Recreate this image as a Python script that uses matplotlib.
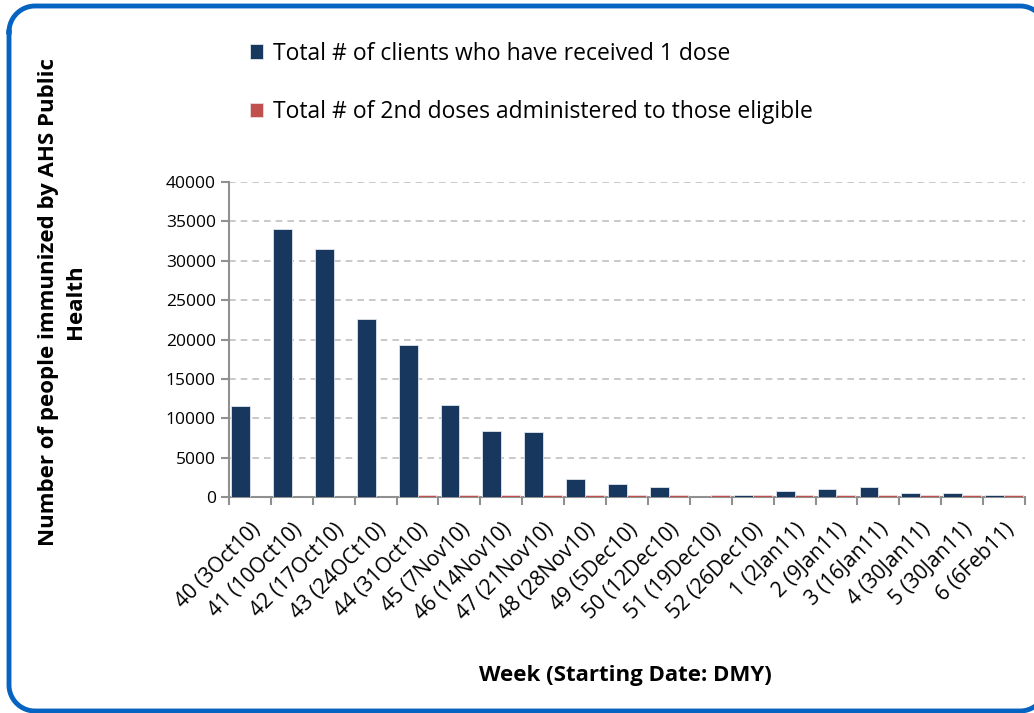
import matplotlib
matplotlib.use('Agg')
import matplotlib.pyplot as plt
from matplotlib.lines import Line2D
import numpy as np

weeks = ['40 (3Oct10)', '41 (10Oct10)', '42 (17Oct10)', '43 (24OCt10)', '44 (31Oct10)',
         '45 (7Nov10)', '46 (14Nov10)', '47 (21Nov10)', '48 (28Nov10)', '49 (5Dec10)',
         '50 (12Dec10)', '51 (19Dec10)', '52 (26Dec10)', '1 (2Jan11)', '2 (9Jan11)',
         '3 (16Jan11)', '4 (30Jan11)', '5 (30Jan11)', '6 (6Feb11)']
first_dose = [11500, 34000, 31500, 22600, 19300, 11700, 8400, 8200, 2300, 1600,
              1300, 0, 200, 750, 1000, 1250, 480, 480, 200]
second_dose = [0, 0, 0, 0, 300, 300, 300, 300, 300, 300,
               300, 300, 300, 300, 300, 300, 300, 300, 300]

label_first = 'Total # of clients who have received 1 dose'
label_second = 'Total # of 2nd doses administered to those eligible'

plt.rcParams['font.family'] = ['Open Sans', 'DejaVu Sans']

W, H = 1034, 713
fig = plt.figure(figsize=(W / 100, H / 100), dpi=100)
ax = fig.add_axes([229 / W, 1 - 497 / H, 796 / W, 315 / H])

x = np.arange(len(weeks))
bw = 0.45
ax.bar(x - bw / 2, first_dose, width=bw, color='#17375E', edgecolor='#dfe6ee', linewidth=0.6,
       label=label_first, zorder=3)
ax.bar(x + bw / 2, second_dose, width=bw, color='#C0504D', edgecolor='#f0dada', linewidth=0.6,
       label=label_second, zorder=3)

ax.set_xlim(-0.5, len(weeks) - 0.5)
ax.set_ylim(0, 40000)
ax.set_yticks(np.arange(0, 40001, 5000))
ax.yaxis.grid(True, linestyle=(0, (4, 3)), color='#c0c0c0', linewidth=1.2, zorder=0)
ax.set_xticks(np.arange(-0.5, len(weeks), 1.0))
ax.set_xticklabels([])
ax.set_xticks(x, minor=True)
ax.set_xticklabels(weeks, minor=True, rotation=45, ha='right', rotation_mode='anchor',
                   fontsize=15)
ax.tick_params(axis='x', which='minor', length=0, pad=16)
ax.tick_params(axis='x', which='major', length=6, color='#909090', width=1.5)
ax.tick_params(axis='y', length=6, color='#909090', width=1.5, labelsize=12.5)

for s in ['top', 'right']:
    ax.spines[s].set_visible(False)
for s in ['left', 'bottom']:
    ax.spines[s].set_color('#909090')
    ax.spines[s].set_linewidth(1.5)

fig.text(62 / W, 1 - 302 / H, 'Number of people immunized by AHS Public\nHealth',
         rotation=90, ha='center', va='center', fontsize=16, fontweight='bold',
         linespacing=1.35)
fig.text(625 / W, 1 - 675 / H, 'Week (Starting Date: DMY)', ha='center', va='center',
         fontsize=16, fontweight='bold')

leg = fig.legend(loc='upper left', bbox_to_anchor=(229 / W, 1 - 21 / H), frameon=False,
                 fontsize=16.5, handlelength=0.6, handleheight=0.6, handletextpad=0.42,
                 labelspacing=1.5)


def arc(cx, cy, r, a0, a1):
    a = np.radians(np.linspace(a0, a1, 24))
    return cx + r * np.cos(a), cy + r * np.sin(a)


# rounded frame in pixel coords (origin bottom-left), traced clockwise;
# the right side sits just off the canvas
r = 26
left, right, bottom, top = 9, 1046, 2, 707
parts = [arc(left + r, top - r, r, 180, 90),
         arc(right - r, top - r, r, 90, 0),
         arc(right - r, bottom + r, r, 0, -90),
         arc(left + r, bottom + r, r, -90, -180)]
bx = np.concatenate([p[0] for p in parts])
by = np.concatenate([p[1] for p in parts])
bx = np.append(bx, bx[0])
by = np.append(by, by[0])
fig.lines.append(Line2D(bx / W, by / H, transform=fig.transFigure, color='#0563C1',
                        linewidth=3.5, solid_joinstyle='round'))

fig.savefig('out.png', dpi=100)
